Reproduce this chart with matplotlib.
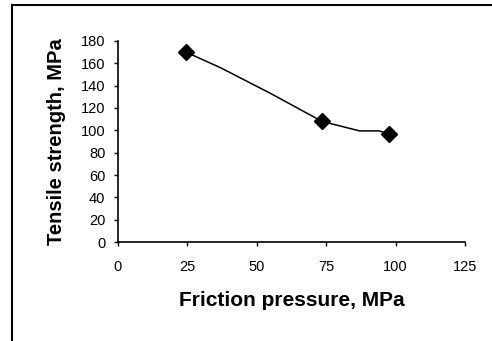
import matplotlib
matplotlib.use('Agg')
import matplotlib.pyplot as plt
from matplotlib.lines import Line2D

plt.rcParams['font.family'] = ['Liberation Sans', 'DejaVu Sans']

# measured points
pressure = [24.5, 73.5, 97.5]
strength = [170, 108, 97]

# connecting curve (as drawn in the original)
curve_x = [24.5, 37, 55, 73.5, 87, 94, 97.5]
curve_y = [170, 156, 133, 108, 99.5, 99.5, 97]

xticks = [0, 25, 50, 75, 100, 125]
yticks = [0, 20, 40, 60, 80, 100, 120, 140, 160, 180]

fig = plt.figure(figsize=(4.92, 3.41), dpi=100)
ax = fig.add_axes([0.2398, 0.2903, 0.7053, 0.5895])

ax.plot(curve_x, curve_y, color='black', lw=1.1)
ax.plot(pressure, strength, ls='none', marker='D', ms=8, color='black')

ax.set_xlim(0, 125)
ax.set_ylim(0, 180)
ax.set_xticks(xticks)
ax.set_yticks(yticks)
ax.tick_params(direction='out', length=3, width=1, labelsize=10.5)
ax.tick_params(axis='x', pad=10)
ax.tick_params(axis='y', pad=6)
for s in ['top', 'right']:
    ax.spines[s].set_visible(False)
for s in ['left', 'bottom']:
    ax.spines[s].set_linewidth(1.2)

ax.set_xlabel('Friction pressure, MPa', fontsize=15, fontweight='bold', labelpad=12)
ax.set_ylabel('Tensile strength, MPa', fontsize=14.5, fontweight='bold', labelpad=11)

# outer chart frame (partly cropped in the original)
fig.add_artist(Line2D([11.5/492, 11.5/492], [0, 1-4.5/341], transform=fig.transFigure, color='black', lw=1.5))
fig.add_artist(Line2D([11.5/492, 1], [1-4.5/341, 1-4.5/341], transform=fig.transFigure, color='black', lw=1.5))

fig.savefig('out.png', dpi=100)
